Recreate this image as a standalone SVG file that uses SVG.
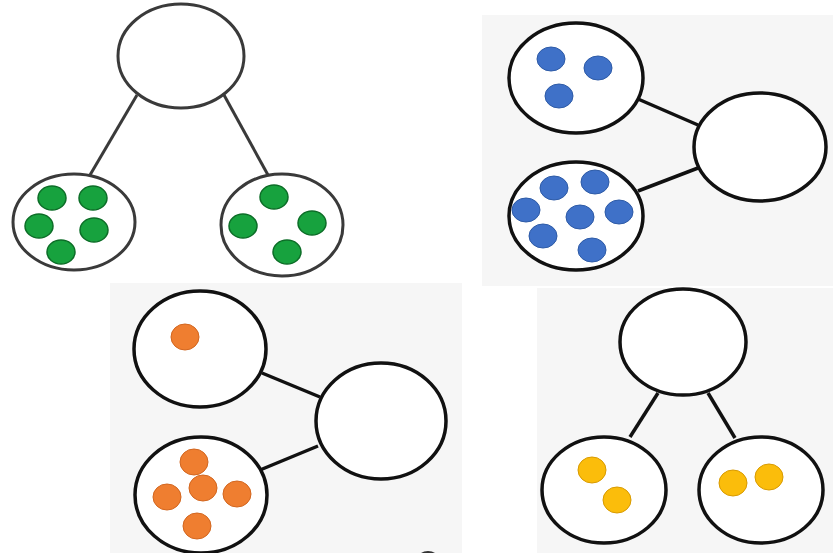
<svg xmlns="http://www.w3.org/2000/svg" width="833" height="553" viewBox="0 0 833 553">
  <style>
    .bg { fill: #f6f6f6; }
    .node { fill: #ffffff; stroke: #111111; stroke-width: 3.5; }
    .node1 { fill: #ffffff; stroke: #3a3a3a; stroke-width: 3; }
    .edge { stroke: #111111; stroke-width: 3.5; fill: none; }
    .edge1 { stroke: #3a3a3a; stroke-width: 3; fill: none; }
    .g { fill: #17a23e; stroke: #0c6d27; stroke-width: 1.5; }
    .b { fill: #3f71c8; stroke: #2d5aa6; stroke-width: 1; }
    .o { fill: #ef7e30; stroke: #d2661f; stroke-width: 1; }
    .y { fill: #fbbd0b; stroke: #d89a00; stroke-width: 1; }
  </style>
  <rect width="833" height="553" fill="#ffffff"/>
  <rect class="bg" x="482" y="15" width="351" height="271"/>
  <rect class="bg" x="110" y="283" width="352" height="270"/>
  <rect class="bg" x="537" y="288" width="296" height="265"/>

  <g id="connectors">
    <line class="edge1" x1="137" y1="95" x2="90" y2="175"/>
    <line class="edge1" x1="224" y1="95" x2="268" y2="175"/>
    <line class="edge" x1="638" y1="99" x2="698" y2="125"/>
    <line class="edge" x1="638" y1="191" x2="698" y2="168"/>
    <line class="edge" x1="262" y1="373" x2="320" y2="397"/>
    <line class="edge" x1="260" y1="470" x2="318" y2="446"/>
    <line class="edge" x1="658" y1="393" x2="630" y2="437"/>
    <line class="edge" x1="708" y1="393" x2="735" y2="438"/>
  </g>

  <!-- Panel 1 -->
  <g id="p1-top"><ellipse class="node1" cx="181" cy="56" rx="63" ry="52"/></g>
  <g id="p1-left">
    <ellipse class="node1" cx="74" cy="222" rx="61" ry="48"/>
    <ellipse class="g" cx="52" cy="198" rx="14" ry="12"/>
    <ellipse class="g" cx="93" cy="198" rx="14" ry="12"/>
    <ellipse class="g" cx="39" cy="226" rx="14" ry="12"/>
    <ellipse class="g" cx="94" cy="230" rx="14" ry="12"/>
    <ellipse class="g" cx="61" cy="252" rx="14" ry="12"/>
  </g>
  <g id="p1-right">
    <ellipse class="node1" cx="282" cy="225" rx="61" ry="51"/>
    <ellipse class="g" cx="274" cy="197" rx="14" ry="12"/>
    <ellipse class="g" cx="243" cy="226" rx="14" ry="12"/>
    <ellipse class="g" cx="312" cy="223" rx="14" ry="12"/>
    <ellipse class="g" cx="287" cy="252" rx="14" ry="12"/>
  </g>

  <!-- Panel 2 -->
  <g id="p2-top">
    <ellipse class="node" cx="576" cy="78" rx="67" ry="55"/>
    <ellipse class="b" cx="551" cy="59" rx="14" ry="12"/>
    <ellipse class="b" cx="598" cy="68" rx="14" ry="12"/>
    <ellipse class="b" cx="559" cy="96" rx="14" ry="12"/>
  </g>
  <g id="p2-whole"><ellipse class="node" cx="760" cy="147" rx="66" ry="54"/></g>
  <g id="p2-bottom">
    <ellipse class="node" cx="576" cy="216" rx="67" ry="54"/>
    <ellipse class="b" cx="554" cy="188" rx="14" ry="12"/>
    <ellipse class="b" cx="595" cy="182" rx="14" ry="12"/>
    <ellipse class="b" cx="526" cy="210" rx="14" ry="12"/>
    <ellipse class="b" cx="580" cy="217" rx="14" ry="12"/>
    <ellipse class="b" cx="619" cy="212" rx="14" ry="12"/>
    <ellipse class="b" cx="543" cy="236" rx="14" ry="12"/>
    <ellipse class="b" cx="592" cy="250" rx="14" ry="12"/>
  </g>

  <!-- Panel 3 -->
  <g id="p3-top">
    <ellipse class="node" cx="200" cy="349" rx="66" ry="58"/>
    <ellipse class="o" cx="185" cy="337" rx="14" ry="13"/>
  </g>
  <g id="p3-whole"><ellipse class="node" cx="381" cy="421" rx="65" ry="58"/></g>
  <g id="p3-bottom">
    <ellipse class="node" cx="201" cy="495" rx="66" ry="58"/>
    <ellipse class="o" cx="194" cy="462" rx="14" ry="13"/>
    <ellipse class="o" cx="203" cy="488" rx="14" ry="13"/>
    <ellipse class="o" cx="167" cy="497" rx="14" ry="13"/>
    <ellipse class="o" cx="237" cy="494" rx="14" ry="13"/>
    <ellipse class="o" cx="197" cy="526" rx="14" ry="13"/>
  </g>
  <ellipse cx="428" cy="558" rx="10" ry="7" fill="#333333"/>

  <!-- Panel 4 -->
  <g id="p4-top"><ellipse class="node" cx="683" cy="342" rx="63" ry="53"/></g>
  <g id="p4-left">
    <ellipse class="node" cx="604" cy="490" rx="62" ry="53"/>
    <ellipse class="y" cx="592" cy="470" rx="14" ry="13"/>
    <ellipse class="y" cx="617" cy="500" rx="14" ry="13"/>
  </g>
  <g id="p4-right">
    <ellipse class="node" cx="761" cy="490" rx="62" ry="53"/>
    <ellipse class="y" cx="733" cy="483" rx="14" ry="13"/>
    <ellipse class="y" cx="769" cy="477" rx="14" ry="13"/>
  </g>
</svg>
